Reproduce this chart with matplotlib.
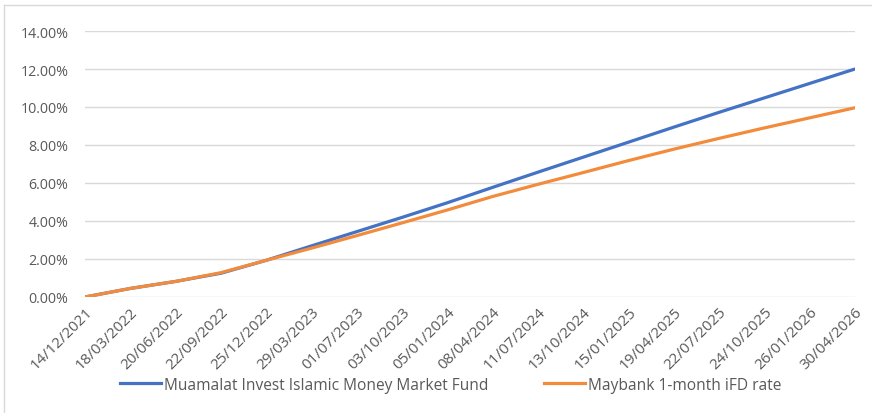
import matplotlib
matplotlib.use("Agg")
import matplotlib.pyplot as plt
from matplotlib.lines import Line2D
from matplotlib.ticker import FuncFormatter, MultipleLocator
import datetime as dt

plt.rcParams['font.family'] = ['Open Sans', 'DejaVu Sans']

dates = ["14/12/2021", "18/03/2022", "20/06/2022", "22/09/2022", "25/12/2022",
         "29/03/2023", "01/07/2023", "03/10/2023", "05/01/2024", "08/04/2024",
         "11/07/2024", "13/10/2024", "15/01/2025", "19/04/2025", "22/07/2025",
         "24/10/2025", "26/01/2026", "30/04/2026"]
fund = [0.00, 0.45, 0.82, 1.25, 1.93, 2.69, 3.44, 4.19, 4.96, 5.77,
        6.57, 7.36, 8.15, 8.94, 9.72, 10.48, 11.24, 12.00]
maybank = [0.00, 0.45, 0.82, 1.28, 1.93, 2.57, 3.23, 3.90, 4.58, 5.29,
           5.93, 6.55, 7.18, 7.78, 8.35, 8.90, 9.43, 9.96]
series_names = ["Muamalat Invest Islamic Money Market Fund", "Maybank 1-month iFD rate"]

x = [dt.datetime.strptime(d, "%d/%m/%Y") for d in dates]

fig = plt.figure(figsize=(8.72, 4.14), dpi=100)
ax = fig.add_axes([85/872, 1-298/414, (855-85)/872, (298-32)/414])

blue = "#4472C4"
orange = "#F28C3C"
ax.plot(x, fund, color=blue, lw=2.3, solid_capstyle='round', zorder=3)
ax.plot(x, maybank, color=orange, lw=2.3, solid_capstyle='round', zorder=4)

ax.set_xlim(x[0], x[-1])
ax.set_ylim(0, 14)
ax.yaxis.set_major_locator(MultipleLocator(2))
ax.yaxis.set_major_formatter(FuncFormatter(lambda v, p: f"{v:.2f}%"))
ax.set_xticks(x)
ax.set_xticklabels(dates, rotation=45, ha='right', va='top', rotation_mode='anchor')

ax.grid(axis='y', color='#D9D9D9', lw=1)
ax.set_axisbelow(True)
for s in ax.spines.values():
    s.set_visible(False)
ax.tick_params(axis='both', length=0, colors='#595959')
ax.tick_params(axis='y', pad=12, labelsize=10.3)
ax.tick_params(axis='x', pad=5, labelsize=11)

handles = [Line2D([0], [0], color=blue, lw=2.3), Line2D([0], [0], color=orange, lw=2.3)]
leg = fig.legend(handles, series_names, loc='center', bbox_to_anchor=(0.517, 0.068),
                 ncol=2, frameon=False, handlelength=2.6, handletextpad=0.2,
                 columnspacing=3.6, fontsize=11.2)
for t in leg.get_texts():
    t.set_color('#595959')

# outer chart border (top and left)
fig.add_artist(Line2D([4/872, 4/872], [0, 1-6/414], color='#D9D9D9', lw=1, transform=fig.transFigure))
fig.add_artist(Line2D([4/872, 1], [1-6/414, 1-6/414], color='#D9D9D9', lw=1, transform=fig.transFigure))

fig.savefig("out.png", dpi=100)
